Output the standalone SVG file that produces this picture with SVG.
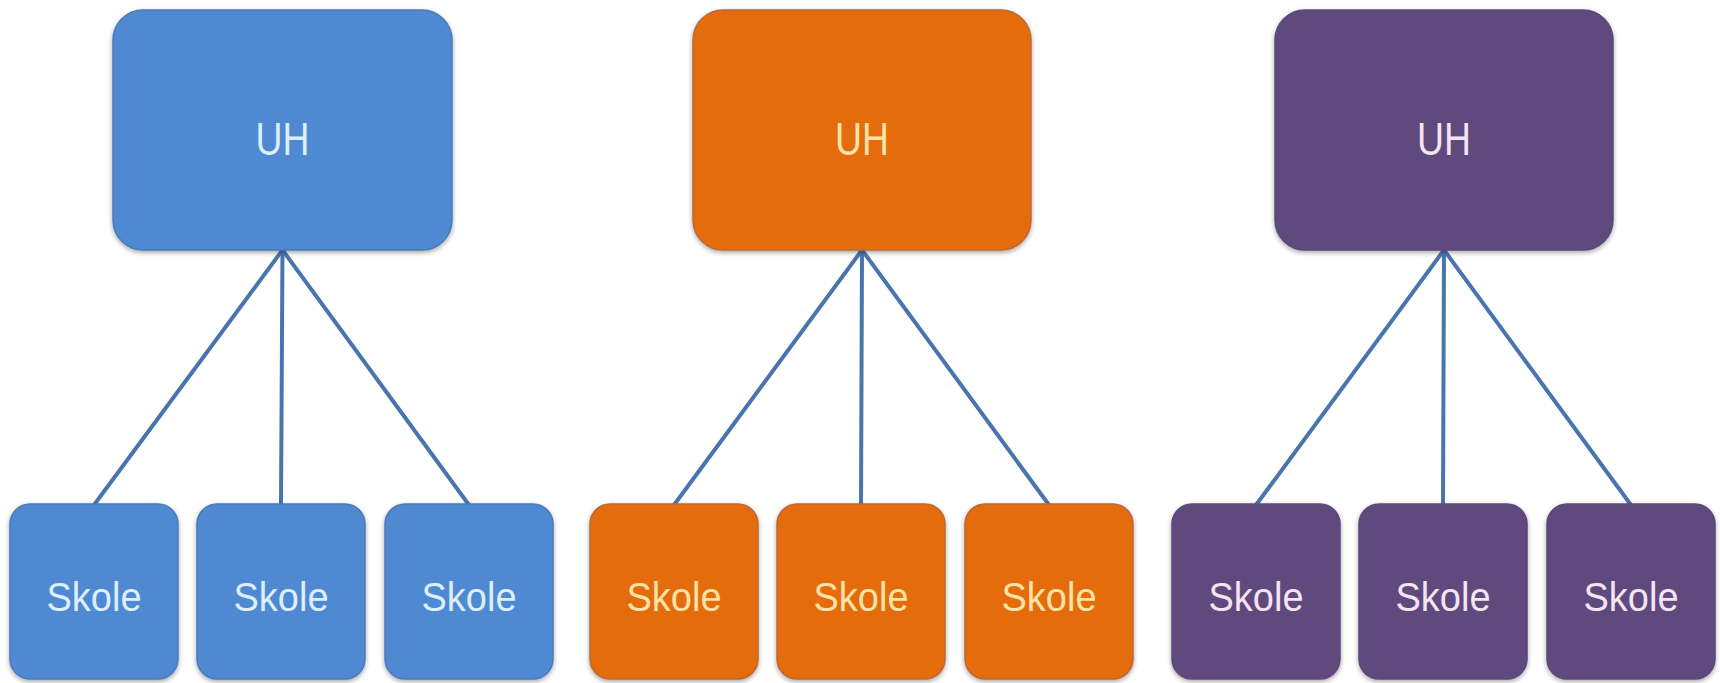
<svg xmlns="http://www.w3.org/2000/svg" width="1720" height="683" viewBox="0 0 1720 683">
  <defs>
    <filter id="sh" x="-10%" y="-10%" width="120%" height="125%">
      <feGaussianBlur in="SourceAlpha" stdDeviation="2.5"/>
      <feOffset dx="0" dy="2" result="b"/>
      <feComponentTransfer><feFuncA type="linear" slope="0.35"/></feComponentTransfer>
      <feMerge><feMergeNode/><feMergeNode in="SourceGraphic"/></feMerge>
    </filter>
  </defs>
  <style>
    .uh { filter: url(#sh); stroke-width: 1.5; }
    .sk { filter: url(#sh); stroke-width: 1.5; }
    .blue { fill: #5089D1; stroke: #4A7BB8; }
    .orange { fill: #E46C0A; stroke: #B86A3A; }
    .purple { fill: #604A7B; stroke: #5A4A78; }
    .t { font-family: "Liberation Sans", Arial, sans-serif; text-anchor: middle; }
    .tuh { font-size: 47px; }
    .tsk { font-size: 40px; }
    .tb { fill: #DDEEFF; }
    .to { fill: #FFE3A6; }
    .tp { fill: #F4E4F4; }
    .conn line { stroke: #4A74AE; stroke-width: 4; stroke-linecap: round; }
  </style>
  <rect width="1720" height="683" fill="#FFFFFF"/>

  <g id="connectors" class="conn">
    <line x1="282.5" y1="250" x2="94" y2="505"/>
    <line x1="282.5" y1="250" x2="281" y2="505"/>
    <line x1="282.5" y1="250" x2="469" y2="505"/>
    <line x1="862" y1="250" x2="674" y2="505"/>
    <line x1="862" y1="250" x2="861" y2="505"/>
    <line x1="862" y1="250" x2="1049" y2="505"/>
    <line x1="1444" y1="250" x2="1256" y2="505"/>
    <line x1="1444" y1="250" x2="1443" y2="505"/>
    <line x1="1444" y1="250" x2="1631" y2="505"/>
  </g>

  <g id="uh-blue">
    <rect class="uh blue" x="113" y="10" width="339" height="240" rx="30"/>
    <text class="t tuh tb" x="282.5" y="155" textLength="54" lengthAdjust="spacingAndGlyphs">UH</text>
  </g>
  <g id="uh-orange">
    <rect class="uh orange" x="693" y="10" width="338" height="240" rx="30"/>
    <text class="t tuh to" x="862" y="155" textLength="54" lengthAdjust="spacingAndGlyphs">UH</text>
  </g>
  <g id="uh-purple">
    <rect class="uh purple" x="1275" y="10" width="338" height="240" rx="30"/>
    <text class="t tuh tp" x="1444" y="155" textLength="54" lengthAdjust="spacingAndGlyphs">UH</text>
  </g>

  <g id="skole-b1">
    <rect class="sk blue" x="10" y="504" width="168" height="175" rx="20"/>
    <text class="t tsk tb" x="94" y="611" textLength="95" lengthAdjust="spacingAndGlyphs">Skole</text>
  </g>
  <g id="skole-b2">
    <rect class="sk blue" x="197" y="504" width="168" height="175" rx="20"/>
    <text class="t tsk tb" x="281" y="611" textLength="95" lengthAdjust="spacingAndGlyphs">Skole</text>
  </g>
  <g id="skole-b3">
    <rect class="sk blue" x="385" y="504" width="168" height="175" rx="20"/>
    <text class="t tsk tb" x="469" y="611" textLength="95" lengthAdjust="spacingAndGlyphs">Skole</text>
  </g>

  <g id="skole-o1">
    <rect class="sk orange" x="590" y="504" width="168" height="175" rx="20"/>
    <text class="t tsk to" x="674" y="611" textLength="95" lengthAdjust="spacingAndGlyphs">Skole</text>
  </g>
  <g id="skole-o2">
    <rect class="sk orange" x="777" y="504" width="168" height="175" rx="20"/>
    <text class="t tsk to" x="861" y="611" textLength="95" lengthAdjust="spacingAndGlyphs">Skole</text>
  </g>
  <g id="skole-o3">
    <rect class="sk orange" x="965" y="504" width="168" height="175" rx="20"/>
    <text class="t tsk to" x="1049" y="611" textLength="95" lengthAdjust="spacingAndGlyphs">Skole</text>
  </g>

  <g id="skole-p1">
    <rect class="sk purple" x="1172" y="504" width="168" height="175" rx="20"/>
    <text class="t tsk tp" x="1256" y="611" textLength="95" lengthAdjust="spacingAndGlyphs">Skole</text>
  </g>
  <g id="skole-p2">
    <rect class="sk purple" x="1359" y="504" width="168" height="175" rx="20"/>
    <text class="t tsk tp" x="1443" y="611" textLength="95" lengthAdjust="spacingAndGlyphs">Skole</text>
  </g>
  <g id="skole-p3">
    <rect class="sk purple" x="1547" y="504" width="168" height="175" rx="20"/>
    <text class="t tsk tp" x="1631" y="611" textLength="95" lengthAdjust="spacingAndGlyphs">Skole</text>
  </g>
</svg>
